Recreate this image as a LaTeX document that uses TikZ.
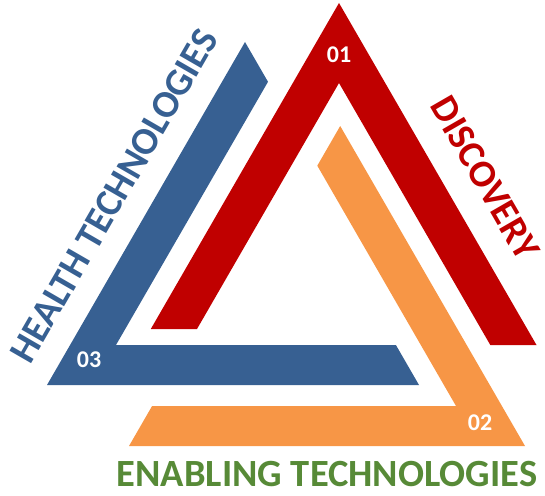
\documentclass[tikz,border=0pt]{standalone}
\usepackage{fontspec}
\setmainfont{Carlito}
\definecolor{discred}{HTML}{C00000}
\definecolor{healthblue}{HTML}{376092}
\definecolor{enableorange}{HTML}{F79646}
\definecolor{enablegreen}{HTML}{578A37}
\tikzset{
  label/.style={font=\fontsize{38.5}{38.5}\selectfont\bfseries, inner sep=0pt},
  num/.style={text=white, font=\fontsize{24}{24}\selectfont\bfseries, inner sep=0pt},
}
\begin{document}
\begin{tikzpicture}[x=1pt,y=-1pt]
\useasboundingbox (0,0) rectangle (545,495);
% red chevron, point up
\fill[discred] (339,3) -- (536.5,345) -- (490.3,345) -- (339,83) -- (197,329) -- (150.8,329) -- cycle;
% blue chevron, corner bottom left
\fill[healthblue] (47,385) -- (419,385) -- (395.9,345) -- (116,345) -- (268,81.8) -- (245,42) -- cycle;
% orange chevron, corner bottom right
\fill[enableorange] (525,446) -- (129,446) -- (152.1,406) -- (456,406) -- (317.3,165.7) -- (340.2,126) -- cycle;

\node[num] (n01) at (339,55) {01};
\node[num] (n02) at (480,423) {02};
\node[num] (n03) at (89,360) {03};

\node[label, text=discred, rotate=-60] (discovery) at (485,178) {DISCOVERY};
\node[label, text=healthblue, rotate=60] (health) at (114,196) {HEALTH TECHNOLOGIES};
\node[label, text=enablegreen] (enabling) at (327,474) {ENABLING TECHNOLOGIES};
\end{tikzpicture}
\end{document}
